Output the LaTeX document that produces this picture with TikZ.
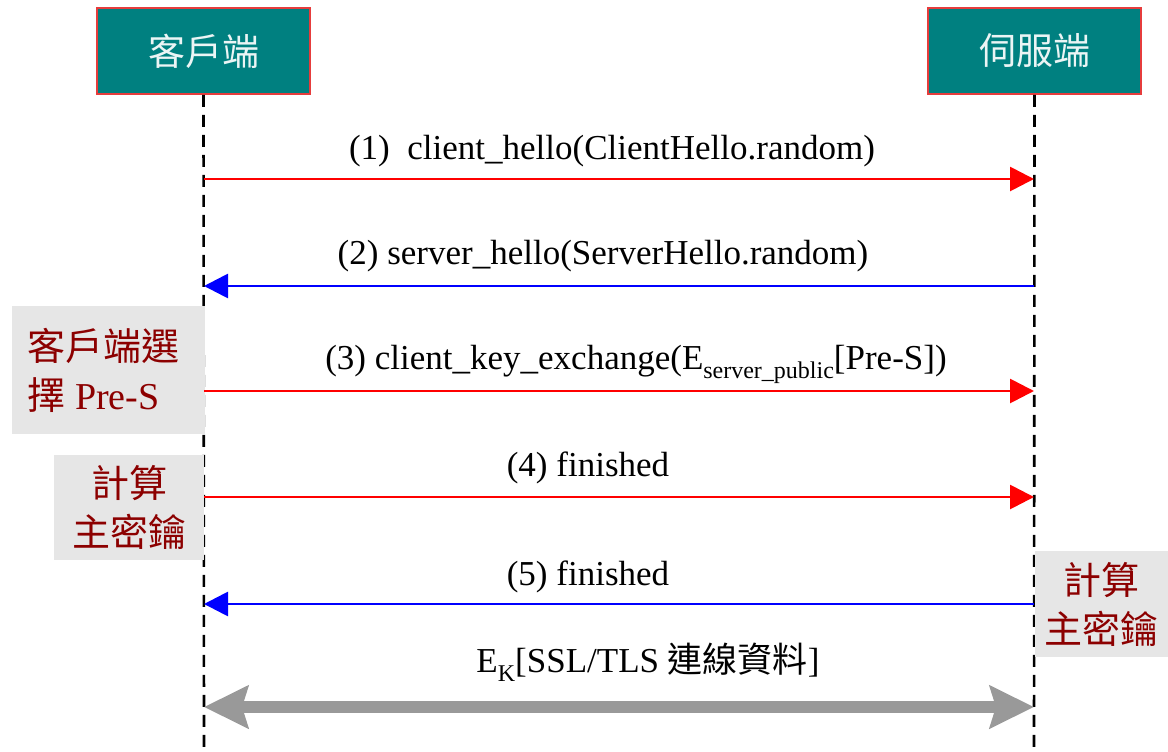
\documentclass[tikz,border=0pt]{standalone}
\usepackage{fontspec}
\setmainfont{Liberation Serif}
\newfontfamily\cjk{Noto Sans CJK TC}
\usetikzlibrary{arrows.meta}
\definecolor{teal0}{RGB}{0,128,128}
\definecolor{boxred}{RGB}{230,60,60}
\definecolor{notegray}{RGB}{230,230,230}
\definecolor{notered}{RGB}{140,0,0}
\definecolor{msgred}{RGB}{255,0,0}
\definecolor{msgblue}{RGB}{0,0,255}
\definecolor{biggray}{RGB}{153,153,153}
\newcommand{\sub}[1]{\raisebox{-0.28em}{\fontsize{24}{24}\selectfont #1}}
\tikzset{
  actor/.style={draw=boxred, line width=1.6pt, fill=teal0, text=white!92!teal0,
    minimum width=213pt, minimum height=86pt, inner sep=0pt,
    font=\fontsize{37}{37}\selectfont\cjk},
  life/.style={black, line width=2.6pt, dash pattern=on 12pt off 8pt},
  msgr/.style={msgred, line width=2.8pt, -{Triangle[length=24pt,width=24pt]}},
  msgb/.style={msgblue, line width=2.8pt, -{Triangle[length=24pt,width=24pt]}},
  bigarrow/.style={biggray, line width=12pt, {Stealth[length=44pt,width=42pt,inset=6pt]}-{Stealth[length=44pt,width=42pt,inset=6pt]}},
  lbl/.style={anchor=base, inner sep=0pt, font=\fontsize{35}{35}\selectfont},
  note/.style={fill=notegray, text=notered, inner sep=0pt,
    font=\fontsize{38}{49}\selectfont}
}
\begin{document}
\begin{tikzpicture}[x=1pt,y=-1pt]
\useasboundingbox[fill=white] (0,0) rectangle (1168,752);
% actors
\node[actor] (c) at (203.5,51) {客戶端};
\node[actor] (s) at (1034.5,51) {伺服端};
\coordinate (cb) at (204,752);
\coordinate (sb) at (1034,752);
\draw[life] (c.south) -- (cb);
\draw[life] (s.south) -- (sb);
% notes (behind arrows)
\node[note, minimum width=193pt, minimum height=128pt, align=left, text width=162pt] (n1) at (108.5,370) {{\cjk 客戶端選}\\{\cjk 擇}\hspace{0.25em}Pre-S};
\node[note, minimum width=150pt, minimum height=105pt, align=center] (n2) at (129,507.5) {{\cjk 計算}\\{\cjk 主密鑰}};
\node[note, minimum width=133pt, minimum height=106pt, align=center] (n3) at (1101.5,604) {{\cjk 計算}\\{\cjk 主密鑰}};
% message end points on lifelines
\coordinate (c1) at (204,179); \coordinate (s1) at (1034,179);
\coordinate (c2) at (204,286); \coordinate (s2) at (1034,286);
\coordinate (c3) at (204,391); \coordinate (s3) at (1034,391);
\coordinate (c4) at (204,497); \coordinate (s4) at (1034,497);
\coordinate (c5) at (204,604); \coordinate (s5) at (1034,604);
\coordinate (c6) at (204,707); \coordinate (s6) at (1034,707);
\draw[msgr] (c1) -- (s1);
\draw[msgb] (s2) -- (c2);
\draw[msgr] (c3) -- (s3);
\draw[msgr] (c4) -- (s4);
\draw[msgb] (s5) -- (c5);
\draw[bigarrow] (c6) -- (s6);
% labels
\node[lbl] (l1) at (612,159) {(1)\ \ client\_hello(ClientHello.random)};
\node[lbl] (l2) at (603,264) {(2) server\_hello(ServerHello.random)};
\node[lbl] (l3) at (636,369) {(3) client\_key\_exchange(E\sub{server\_public}[Pre-S])};
\node[lbl] (l4) at (588,476) {(4) finished};
\node[lbl] (l5) at (588,585) {(5) finished};
\node[lbl] (l6) at (648,672) {E\sub{K}[SSL/TLS {\cjk 連線資料}]};
\end{tikzpicture}
\end{document}
